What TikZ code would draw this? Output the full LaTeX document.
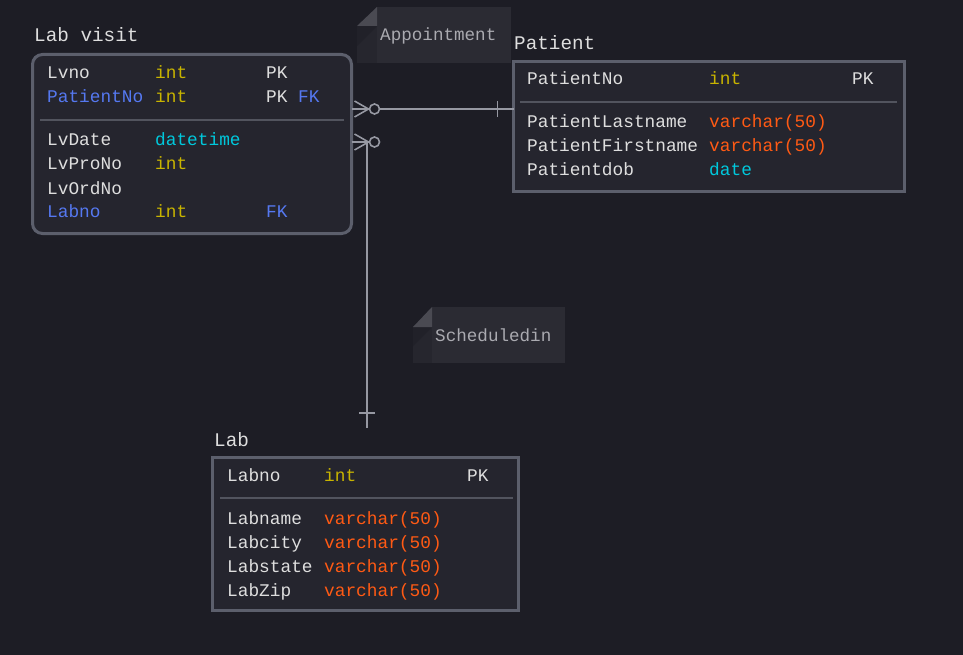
\documentclass[tikz,border=0pt]{standalone}
\usepackage{fontspec}
\usepackage{xcolor}
\usetikzlibrary{calc,positioning}
\newfontfamily\ermono{Liberation Mono}
\definecolor{canvas}{RGB}{29,29,37}
\definecolor{boxfill}{RGB}{37,37,46}
\definecolor{boxborder}{RGB}{92,95,108}
\definecolor{sepline}{RGB}{82,84,94}
\definecolor{fieldtext}{RGB}{222,222,222}
\definecolor{typeyellow}{RGB}{200,180,0}
\definecolor{typecyan}{RGB}{0,200,220}
\definecolor{typeorange}{RGB}{255,90,20}
\definecolor{fkblue}{RGB}{85,120,240}
\definecolor{notefill}{RGB}{43,43,51}
\definecolor{notestrip}{RGB}{38,38,46}
\definecolor{noteshade}{RGB}{33,33,41}
\definecolor{notefold}{RGB}{74,74,82}
\definecolor{notetext}{RGB}{170,170,176}
\definecolor{connline}{RGB}{150,152,162}
\newcommand\tint{\textcolor{typeyellow}{int}}
\newcommand\tvar{\textcolor{typeorange}{varchar(50)}}
\newcommand\tdate{\textcolor{typecyan}{date}}
\newcommand\tdatetime{\textcolor{typecyan}{datetime}}
\newcommand\fkey[1]{\textcolor{fkblue}{#1}}

\begin{document}
\begin{tikzpicture}[x=1pt,y=-1pt,
    tablebox/.style={draw=boxborder,fill=boxfill,line width=3pt,inner sep=0pt,outer sep=0pt,anchor=north west},
    field/.style={anchor=base west,inner sep=0pt,text=fieldtext,font=\ermono\fontsize{17.8}{20}\selectfont},
    tabletitle/.style={field,font=\ermono\fontsize{19.3}{22}\selectfont},
    notelabel/.style={field,text=notetext,font=\ermono\fontsize{17.6}{20}\selectfont},
    conn/.style={draw=connline,line width=1.6pt},
    sep/.style={draw=sepline,line width=2pt}]
\useasboundingbox (0,0) rectangle (963,655);
\fill[canvas] (0,0) rectangle (963,655);

% Notes
\fill[notefill] (377,7) rectangle (511,63);
\fill[notestrip] (357,26) rectangle (377,63);
\fill[noteshade] (357,26) -- (377,26) -- (357,46) -- cycle;
\fill[notefold] (357,26) -- (377,7) -- (377,26) -- cycle;
\node[notelabel] (appointment) at (380,41) {Appointment};

\fill[notefill] (432,307) rectangle (565,363);
\fill[notestrip] (413,327) rectangle (432,363);
\fill[noteshade] (413,327) -- (432,327) -- (413,346) -- cycle;
\fill[notefold] (413,327) -- (432,307) -- (432,327) -- cycle;
\node[notelabel] (scheduledin) at (435,341) {Scheduledin};

% Lab visit
\node[tabletitle] (labvisittitle) at (34,42) {Lab visit};
\node[tablebox,rounded corners=10pt,minimum width=319,minimum height=179] (labvisit) at (32.5,54.5) {};
\draw[sep] (40,120) -- (344,120);
\foreach \y/\fname/\ftype/\fkind [count=\i] in {73/Lvno/\tint/PK, 97/\fkey{PatientNo}/\tint/PK \fkey{FK},
    140/LvDate/\tdatetime/, 164/LvProNo/\tint/, 188/LvOrdNo//, 212/\fkey{Labno}/\tint/\fkey{FK}} {
    \node[field] (lvname\i) at (47,\y+6) {\fname};
    \node[field] (lvtype\i) at (155,\y+6) {\ftype};
    \node[field] (lvkey\i) at (266,\y+6) {\fkind};
}

% Patient
\node[tabletitle] (patienttitle) at (514,50) {Patient};
\node[tablebox,minimum width=391,minimum height=130] (patient) at (513.5,61.5) {};
\draw[sep] (520,102) -- (897,102);
\foreach \y/\fname/\ftype/\fkind [count=\i] in {79/PatientNo/\tint/PK, 122/PatientLastname/\tvar/,
    146/PatientFirstname/\tvar/, 170/Patientdob/\tdate/} {
    \node[field] (ptname\i) at (527,\y+6) {\fname};
    \node[field] (pttype\i) at (709,\y+6) {\ftype};
    \node[field] (ptkey\i) at (852,\y+6) {\fkind};
}

% Lab
\node[tabletitle] (labtitle) at (214,446) {Lab};
\node[tablebox,minimum width=306,minimum height=153] (lab) at (212.5,457.5) {};
\draw[sep] (220,498) -- (513,498);
\foreach \y/\fname/\ftype/\fkind [count=\i] in {475/Labno/\tint/PK, 518/Labname/\tvar/,
    542/Labcity/\tvar/, 566/Labstate/\tvar/, 590/LabZip/\tvar/} {
    \node[field] (lbname\i) at (227,\y+6) {\fname};
    \node[field] (lbtype\i) at (324,\y+6) {\ftype};
    \node[field] (lbkey\i) at (467,\y+6) {\fkind};
}

% Lab visit -- Patient (Appointment)
\coordinate (apfrom) at (labvisit.east |- 0,109);
\coordinate (apto) at (patient.west |- apfrom);
\draw[conn] ($(apfrom)+(3,-8)$) -- ($(apfrom)+(17,0)$) -- ($(apfrom)+(3,8)$);
\draw[conn] (apfrom) -- ++(17,0);
\draw[conn] ($(apfrom)+(23,0)$) circle (5);
\draw[conn] ($(apfrom)+(28,0)$) -- (apto);
\draw[conn] ($(apto)+(-16,-8)$) -- ++(0,16);

% Lab visit -- Lab (Scheduledin)
\coordinate (scfrom) at (labvisit.east |- 0,142);
\coordinate (scto) at (367,428);
\draw[conn] ($(scfrom)+(3,-8)$) -- ($(scfrom)+(17,0)$) -- ($(scfrom)+(3,8)$);
\draw[conn] (scfrom) -- ++(17,0);
\draw[conn] ($(scfrom)+(23,0)$) circle (5);
\draw[conn] (scfrom) -- (scto |- scfrom) -- (scto);
\draw[conn] ($(scto)+(-8,-15)$) -- ++(16,0);
\end{tikzpicture}
\end{document}
